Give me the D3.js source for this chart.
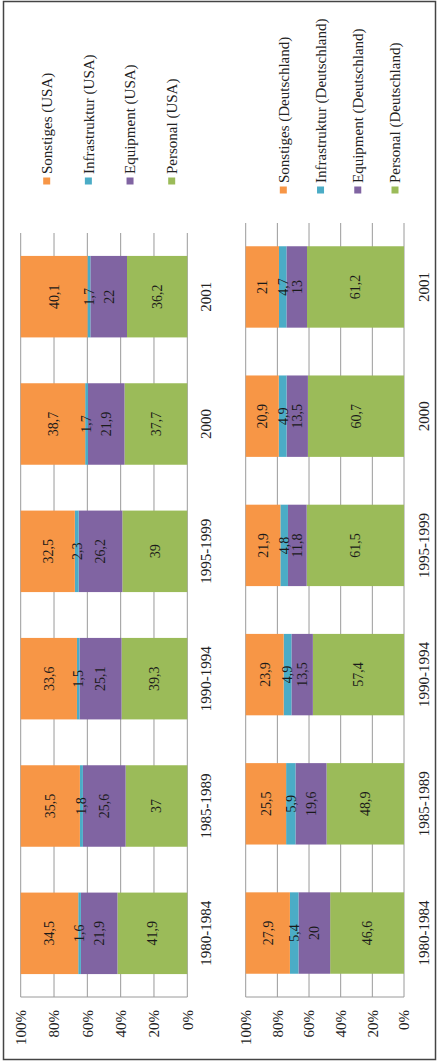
<!DOCTYPE html>
<html><head><meta charset="utf-8">
<script src="https://cdn.jsdelivr.net/npm/d3@7"></script>
<style>html,body{margin:0;padding:0;background:#fff}svg{display:block}</style>
</head><body>
<svg id="c" width="439" height="1063"></svg>
<script>
const categories = ["1980-1984","1985-1989","1990-1994","1995-1999","2000","2001"];
const seriesKeys = ["Personal","Equipment","Infrastruktur","Sonstiges"];
const usaPersonal = [41.9,37,39.3,39,37.7,36.2];
const usaEquipment = [21.9,25.6,25.1,26.2,21.9,22];
const usaInfrastruktur = [1.6,1.8,1.5,2.3,1.7,1.7];
const usaSonstiges = [34.5,35.5,33.6,32.5,38.7,40.1];
const dePersonal = [46.6,48.9,57.4,61.5,60.7,61.2];
const deEquipment = [20,19.6,13.5,11.8,13.5,13];
const deInfrastruktur = [5.4,5.9,4.9,4.8,4.9,4.7];
const deSonstiges = [27.9,25.5,23.9,21.9,20.9,21];
const tickValues = [0,0.2,0.4,0.6,0.8,1];
const tickLabels = ["0%","20%","40%","60%","80%","100%"];
const colors = {Sonstiges:"#F79646",Infrastruktur:"#4BACC6",Equipment:"#8064A2",Personal:"#9BBB59"};
const legendOrder = ["Sonstiges","Infrastruktur","Equipment","Personal"];

const W = 1063, H = 439;
const svg = d3.select("#c");
// outer frame
svg.append("rect").attr("x",3.5).attr("y",1.5).attr("width",432).attr("height",1058)
  .attr("fill","none").attr("stroke","#444").attr("stroke-width",1.5);

const g = svg.append("g").attr("transform",`translate(0,${W}) rotate(-90)`);
const FONT = "'Liberation Serif','Times New Roman',serif";

function rows(p,e,i,s){ return categories.map((c,k)=>({cat:c,Personal:p[k],Equipment:e[k],Infrastruktur:i[k],Sonstiges:s[k]})); }

function panel(data, suffix, xr, yr, pin, catY, legendX, legendYs, textX){
  const x = d3.scaleBand().domain(categories).range(xr).paddingInner(pin).paddingOuter(0.18);
  const y = d3.scaleLinear().domain([0,1]).range(yr);
  const pg = g.append("g");
  // gridlines
  pg.selectAll("line.grid").data(tickValues).join("line")
    .attr("x1",xr[0]).attr("x2",xr[1]).attr("y1",d=>y(d)).attr("y2",d=>y(d))
    .attr("stroke","#9a9a9a").attr("stroke-width",1);
  pg.append("line").attr("x1",xr[0]).attr("x2",xr[0]).attr("y1",y(0)).attr("y2",y(1))
    .attr("stroke","#9a9a9a").attr("stroke-width",1);
  // tick labels
  pg.selectAll("text.tick").data(tickValues).join("text")
    .attr("x",xr[0]-13).attr("y",d=>y(d)).attr("dy","0.35em").attr("text-anchor","end")
    .attr("font-family",FONT).attr("font-size",15).attr("fill","#222")
    .text((d,i)=>tickLabels[i]);
  const stack = d3.stack().keys(seriesKeys).offset(d3.stackOffsetExpand);
  const layers = stack(data);
  const lg = pg.selectAll("g.layer").data(layers).join("g").attr("fill",d=>colors[d.key]);
  lg.selectAll("rect").data(d=>d).join("rect")
    .attr("x",d=>x(d.data.cat)).attr("width",x.bandwidth())
    .attr("y",d=>y(d[1])).attr("height",d=>y(d[0])-y(d[1]));
  const lab = pg.selectAll("g.lab").data(layers).join("g");
  lab.selectAll("text").data(d=>d.map(v=>({v,key:d.key}))).join("text")
    .attr("x",d=>x(d.v.data.cat)+x.bandwidth()/2)
    .attr("y",d=>y((d.v[0]+d.v[1])/2)).attr("dy","0.35em")
    .attr("text-anchor","middle").attr("font-family",FONT).attr("font-size",14).attr("fill","#1a1a1a")
    .text(d=>String(d.v.data[d.key]).replace(".",","));
  // category labels
  pg.selectAll("text.cat").data(categories).join("text")
    .attr("x",d=>x(d)+x.bandwidth()/2).attr("y",catY).attr("text-anchor","middle")
    .attr("font-family",FONT).attr("font-size",15).attr("fill","#222").text(d=>d);
  // legend
  const ly = d3.scalePoint().domain(legendOrder).range(legendYs);
  const leg = pg.selectAll("g.leg").data(legendOrder).join("g");
  leg.append("rect").attr("x",legendX-3.5).attr("y",d=>ly(d)-3.5).attr("width",7).attr("height",7)
    .attr("fill",d=>colors[d]);
  leg.append("text").attr("x",textX).attr("y",d=>ly(d)).attr("dy","0.35em")
    .attr("font-family",FONT).attr("font-size",15).attr("fill","#222")
    .text(d=>`${d} (${suffix})`);
}

panel(rows(usaPersonal,usaEquipment,usaInfrastruktur,usaSonstiges),"USA",[66,830],[187.3,20.7],0.36,211,882,[46.7,171.7],889);
panel(rows(dePersonal,deEquipment,deInfrastruktur,deSonstiges),"Deutschland",[66,840],[404,245.7],0.37,429,873,[283.3,395],880);
</script>
</body></html>
